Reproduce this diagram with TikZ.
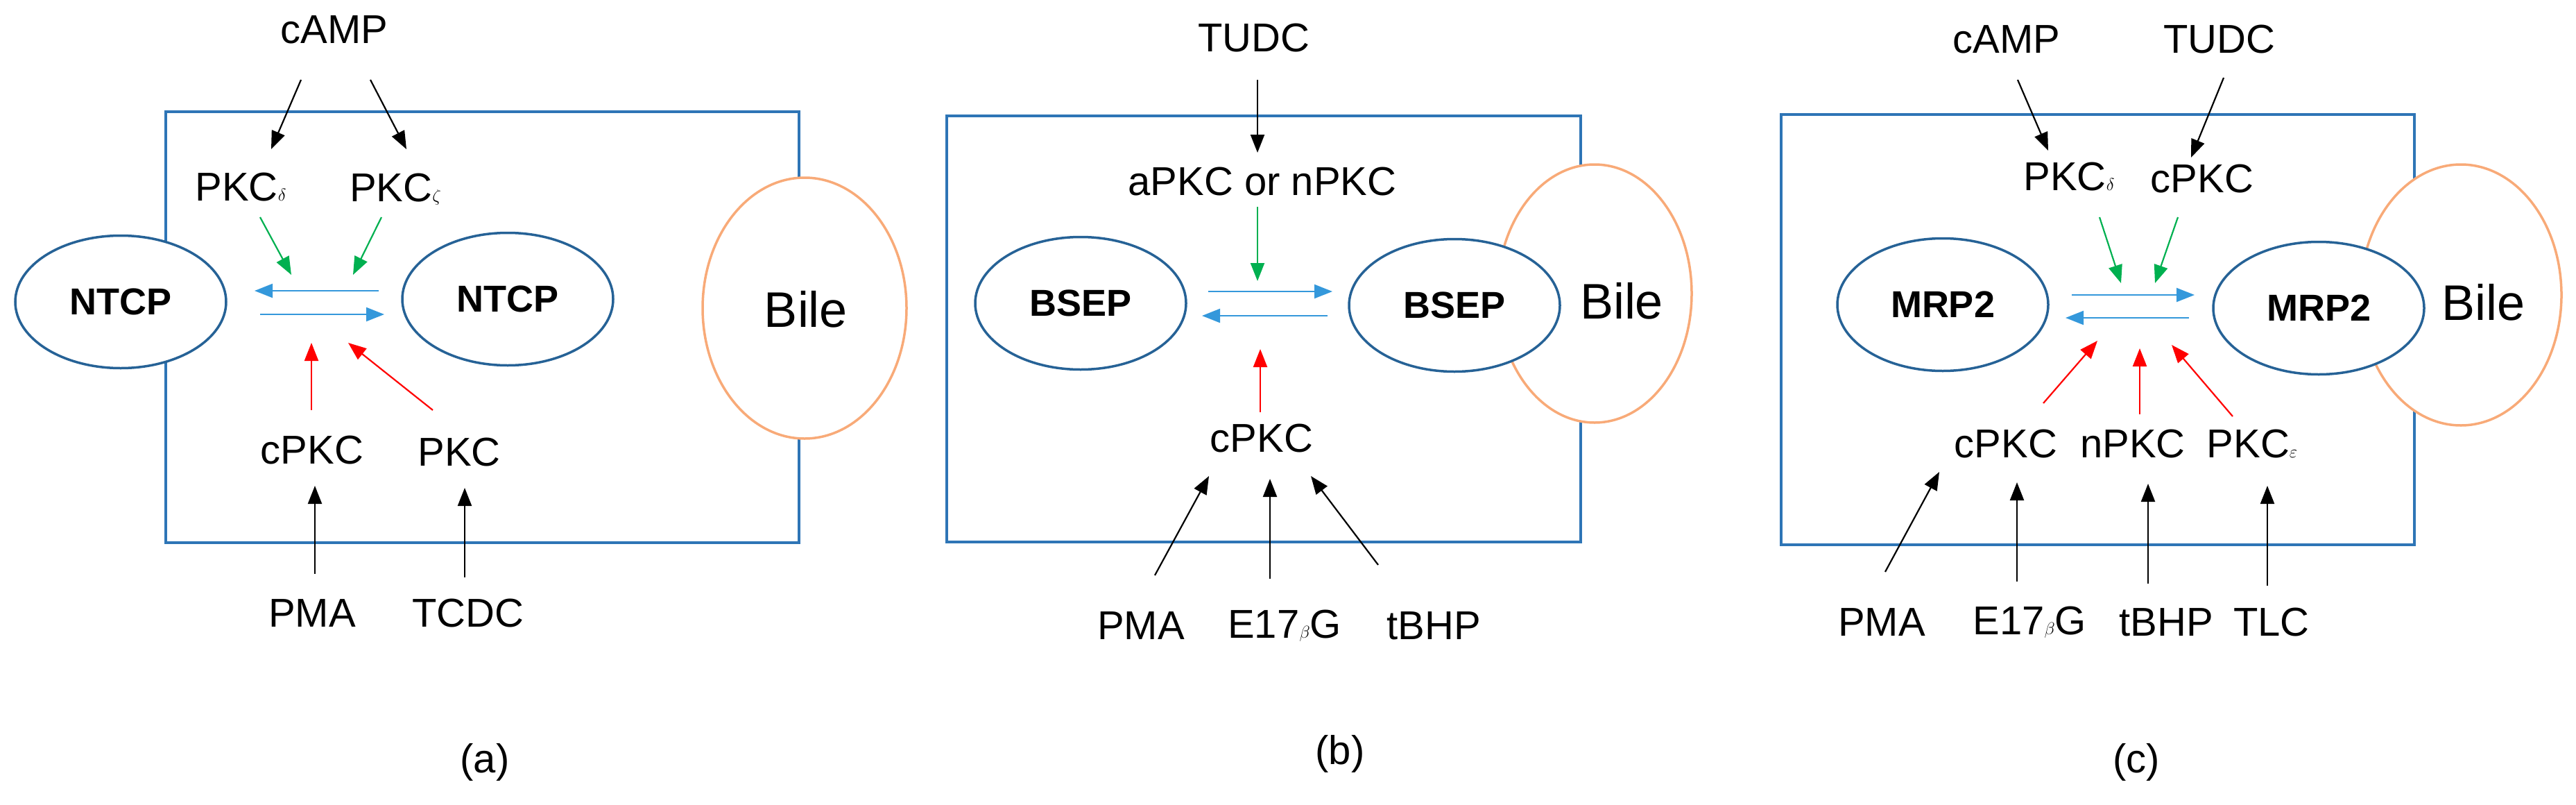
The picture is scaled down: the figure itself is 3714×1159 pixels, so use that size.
\documentclass[tikz,border=0pt]{standalone}
\usepackage{fontspec}
\setmainfont{Liberation Sans}
\usetikzlibrary{arrows.meta,shapes.geometric}
\definecolor{boxb}{RGB}{46,117,182}
\definecolor{ellb}{RGB}{38,98,150}
\definecolor{bileo}{RGB}{248,170,120}
\definecolor{arrb}{RGB}{52,152,219}
\definecolor{grn}{RGB}{0,176,80}
\begin{document}
\begin{tikzpicture}[x=1pt,y=-1pt,
  cell/.style={draw=boxb,line width=4pt},
  prot/.style={draw=ellb,line width=3.5pt,fill=white,ellipse,minimum width=304pt,minimum height=191pt,font=\fontsize{54}{60}\selectfont\bfseries},
  bile/.style={draw=bileo,line width=3.5pt,fill=white},
  lab/.style={font=\fontsize{58}{66}\selectfont,inner sep=0pt},
  ar/.style={line width=2.2pt,-{Triangle[length=26pt,width=20pt]}},
  blk/.style={ar,black},
  gar/.style={ar,grn},
  rar/.style={ar,red},
  bar/.style={ar,arrb},
]
\useasboundingbox (0,0) rectangle (3714,1159);
% ===== (a)
\draw[cell] (239,161) rectangle (1152,782);
\draw[bile] (1160,444) ellipse (147 and 188);
\node[prot] (a1) at (174,435) {NTCP};
\node[prot] (a2) at (732,431) {NTCP};
\node[lab,font=\fontsize{72}{80}\selectfont] (abile) at (1162,446) {Bile};
\node[lab] (acamp) at (482,43) {cAMP};
\node[lab] (apd) at (347,270) {PKC$\delta$};
\node[lab] (apz) at (570,273) {PKC$\zeta$};
\node[lab] (acp) at (450,649) {cPKC};
\node[lab] (apk) at (662,652) {PKC};
\node[lab] (apma) at (450,884) {PMA};
\node[lab] (atcdc) at (675,884) {TCDC};
\node[lab] (alab) at (699,1098) {(a)};
\coordinate (ab1) at (546,419); \coordinate (ab2) at (367,419);
\coordinate (ab3) at (375,453); \coordinate (ab4) at (554,453);
\draw[bar] (ab1) -- (ab2);
\draw[bar] (ab3) -- (ab4);
\coordinate (ac1) at (434,115); \coordinate (ac2) at (391,215);
\coordinate (ac3) at (534,115); \coordinate (ac4) at (586,215);
\draw[blk] (ac1) -- (ac2);
\draw[blk] (ac3) -- (ac4);
\coordinate (ag1) at (375,313); \coordinate (ag2) at (420,396);
\coordinate (ag3) at (550,313); \coordinate (ag4) at (509,396);
\draw[gar] (ag1) -- (ag2);
\draw[gar] (ag3) -- (ag4);
\coordinate (ar1) at (449,591); \coordinate (ar2) at (449,494);
\coordinate (ar3) at (624,591); \coordinate (ar4) at (502,494);
\draw[rar] (ar1) -- (ar2);
\draw[rar] (ar3) -- (ar4);
\coordinate (ak1) at (454,827); \coordinate (ak2) at (454,700);
\coordinate (ak3) at (670,832); \coordinate (ak4) at (670,703);
\draw[blk] (ak1) -- (ak2);
\draw[blk] (ak3) -- (ak4);
% ===== (b)
\draw[cell] (1365,167) rectangle (2279,781);
\draw[bile] (2299,423) ellipse (140 and 186);
\node[prot] (b1) at (1558,437) {BSEP};
\node[prot] (b2) at (2097,440) {BSEP};
\node[lab,font=\fontsize{72}{80}\selectfont] (bbile) at (2338,434) {Bile};
\node[lab] (btudc) at (1808,55) {TUDC};
\node[lab] (bap) at (1820,262) {aPKC or nPKC};
\node[lab] (bcp) at (1819,632) {cPKC};
\node[lab] (bpma) at (1645,902) {PMA};
\node[lab] (be17) at (1852,902) {E17$\beta$G};
\node[lab] (btb) at (2067,902) {tBHP};
\node[lab] (blab) at (1932,1086) {(b)};
\coordinate (bt1) at (1813,115); \coordinate (bt2) at (1813,220);
\draw[blk] (bt1) -- (bt2);
\coordinate (bg1) at (1813,298); \coordinate (bg2) at (1813,405);
\draw[gar] (bg1) -- (bg2);
\coordinate (bb1) at (1742,420); \coordinate (bb2) at (1921,420);
\coordinate (bb3) at (1914,455); \coordinate (bb4) at (1733,455);
\draw[bar] (bb1) -- (bb2);
\draw[bar] (bb3) -- (bb4);
\coordinate (br1) at (1817,594); \coordinate (br2) at (1817,503);
\draw[rar] (br1) -- (br2);
\coordinate (bk1) at (1665,829); \coordinate (bk2) at (1743,686);
\coordinate (bk3) at (1831,834); \coordinate (bk4) at (1831,690);
\coordinate (bk5) at (1987,814); \coordinate (bk6) at (1890,686);
\draw[blk] (bk1) -- (bk2);
\draw[blk] (bk3) -- (bk4);
\draw[blk] (bk5) -- (bk6);
% ===== (c)
\draw[cell] (2568,165) rectangle (3481,785);
\draw[bile] (3548,425) ellipse (145 and 188);
\node[prot] (c1) at (2801,439) {MRP2};
\node[prot] (c2) at (3343,444) {MRP2};
\node[lab,font=\fontsize{72}{80}\selectfont] (cbile) at (3580,436) {Bile};
\node[lab] (ccamp) at (2893,57) {cAMP};
\node[lab] (ctudc) at (3200,57) {TUDC};
\node[lab] (cpd) at (2983,255) {PKC$\delta$};
\node[lab] (ccp) at (3175,258) {cPKC};
\node[lab] (ccp2) at (2892,640) {cPKC};
\node[lab] (cnp) at (3075,640) {nPKC};
\node[lab] (cpe) at (3247,640) {PKC$\varepsilon$};
\node[lab] (cpma) at (2713,897) {PMA};
\node[lab] (ce17) at (2926,897) {E17$\beta$G};
\node[lab] (ctb) at (3123,897) {tBHP};
\node[lab] (ctlc) at (3275,897) {TLC};
\node[lab] (clab) at (3080,1098) {(c)};
\coordinate (ct1) at (2909,115); \coordinate (ct2) at (2953,217);
\coordinate (ct3) at (3206,112); \coordinate (ct4) at (3159,227);
\draw[blk] (ct1) -- (ct2);
\draw[blk] (ct3) -- (ct4);
\coordinate (cg1) at (3027,313); \coordinate (cg2) at (3058,408);
\coordinate (cg3) at (3140,313); \coordinate (cg4) at (3107,408);
\draw[gar] (cg1) -- (cg2);
\draw[gar] (cg3) -- (cg4);
\coordinate (cb1) at (2987,425); \coordinate (cb2) at (3164,425);
\coordinate (cb3) at (3156,458); \coordinate (cb4) at (2978,458);
\draw[bar] (cb1) -- (cb2);
\draw[bar] (cb3) -- (cb4);
\coordinate (cr1) at (2946,581); \coordinate (cr2) at (3024,491);
\coordinate (cr3) at (3085,597); \coordinate (cr4) at (3085,502);
\coordinate (cr5) at (3219,600); \coordinate (cr6) at (3131,497);
\draw[rar] (cr1) -- (cr2);
\draw[rar] (cr3) -- (cr4);
\draw[rar] (cr5) -- (cr6);
\coordinate (ck1) at (2718,824); \coordinate (ck2) at (2796,680);
\coordinate (ck3) at (2908,838); \coordinate (ck4) at (2908,695);
\coordinate (ck5) at (3097,841); \coordinate (ck6) at (3097,697);
\coordinate (ck7) at (3269,844); \coordinate (ck8) at (3269,700);
\draw[blk] (ck1) -- (ck2);
\draw[blk] (ck3) -- (ck4);
\draw[blk] (ck5) -- (ck6);
\draw[blk] (ck7) -- (ck8);
\end{tikzpicture}
\end{document}
